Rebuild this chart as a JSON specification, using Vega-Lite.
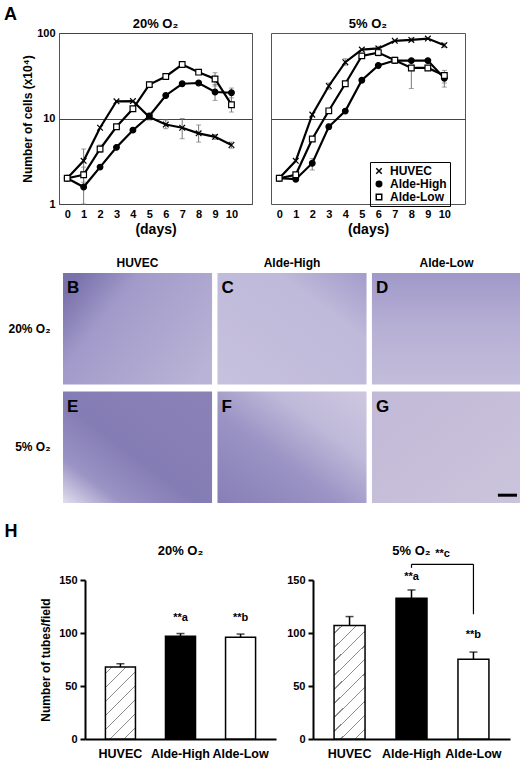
{
  "$schema": "https://vega.github.io/schema/vega-lite/v6.json",
  "description": "Growth curves, tube formation panels and tube counts for HUVEC, Alde-High and Alde-Low cells at 20% and 5% O2",
  "background": "white",
  "autosize": {"type": "pad"},
  "padding": {"left": 3, "top": 5, "right": 0, "bottom": 0},
  "spacing": 19,
  "datasets": {
    "growth": [
      {"o2": "20%", "cell": "HUVEC", "day": 0, "n": 2.0},
      {"o2": "20%", "cell": "HUVEC", "day": 1, "n": 3.2, "lo": 2.4, "hi": 4.4},
      {"o2": "20%", "cell": "HUVEC", "day": 2, "n": 7.8},
      {"o2": "20%", "cell": "HUVEC", "day": 3, "n": 15.9},
      {"o2": "20%", "cell": "HUVEC", "day": 4, "n": 16.0},
      {"o2": "20%", "cell": "HUVEC", "day": 5, "n": 10.4, "lo": 9.6, "hi": 11.5},
      {"o2": "20%", "cell": "HUVEC", "day": 6, "n": 8.5, "lo": 7.6, "hi": 9.6},
      {"o2": "20%", "cell": "HUVEC", "day": 7, "n": 7.8, "lo": 5.8, "hi": 10.0},
      {"o2": "20%", "cell": "HUVEC", "day": 8, "n": 6.7, "lo": 5.3, "hi": 8.4},
      {"o2": "20%", "cell": "HUVEC", "day": 9, "n": 6.1, "lo": 5.7, "hi": 6.5},
      {"o2": "20%", "cell": "HUVEC", "day": 10, "n": 4.9, "lo": 4.5, "hi": 5.3},
      {"o2": "20%", "cell": "Alde-High", "day": 0, "n": 2.0},
      {"o2": "20%", "cell": "Alde-High", "day": 1, "n": 1.58, "lo": 1.0, "hi": 2.4},
      {"o2": "20%", "cell": "Alde-High", "day": 2, "n": 2.7},
      {"o2": "20%", "cell": "Alde-High", "day": 3, "n": 4.6},
      {"o2": "20%", "cell": "Alde-High", "day": 4, "n": 7.3},
      {"o2": "20%", "cell": "Alde-High", "day": 5, "n": 10.7},
      {"o2": "20%", "cell": "Alde-High", "day": 6, "n": 18.6},
      {"o2": "20%", "cell": "Alde-High", "day": 7, "n": 25.5},
      {"o2": "20%", "cell": "Alde-High", "day": 8, "n": 26.0},
      {"o2": "20%", "cell": "Alde-High", "day": 9, "n": 20.4, "lo": 16.3, "hi": 25.0},
      {"o2": "20%", "cell": "Alde-High", "day": 10, "n": 20.0, "lo": 17.4, "hi": 22.7},
      {"o2": "20%", "cell": "Alde-Low", "day": 0, "n": 2.0},
      {"o2": "20%", "cell": "Alde-Low", "day": 1, "n": 2.2, "lo": 1.8, "hi": 2.7},
      {"o2": "20%", "cell": "Alde-Low", "day": 2, "n": 4.4, "lo": 4.0, "hi": 4.9},
      {"o2": "20%", "cell": "Alde-Low", "day": 3, "n": 8.0},
      {"o2": "20%", "cell": "Alde-Low", "day": 4, "n": 13.0},
      {"o2": "20%", "cell": "Alde-Low", "day": 5, "n": 24.9, "lo": 23.0, "hi": 27.0},
      {"o2": "20%", "cell": "Alde-Low", "day": 6, "n": 31.0, "lo": 29.0, "hi": 33.5},
      {"o2": "20%", "cell": "Alde-Low", "day": 7, "n": 42.8},
      {"o2": "20%", "cell": "Alde-Low", "day": 8, "n": 34.8},
      {"o2": "20%", "cell": "Alde-Low", "day": 9, "n": 29.0, "lo": 24.0, "hi": 34.3},
      {"o2": "20%", "cell": "Alde-Low", "day": 10, "n": 14.5, "lo": 11.9, "hi": 19.5},
      {"o2": "5%", "cell": "HUVEC", "day": 0, "n": 2.0},
      {"o2": "5%", "cell": "HUVEC", "day": 1, "n": 3.2},
      {"o2": "5%", "cell": "HUVEC", "day": 2, "n": 11.1},
      {"o2": "5%", "cell": "HUVEC", "day": 3, "n": 24.0, "lo": 22.0, "hi": 26.0},
      {"o2": "5%", "cell": "HUVEC", "day": 4, "n": 45.6, "lo": 42.0, "hi": 50.0},
      {"o2": "5%", "cell": "HUVEC", "day": 5, "n": 64.0},
      {"o2": "5%", "cell": "HUVEC", "day": 6, "n": 66.0, "lo": 62.0, "hi": 70.0},
      {"o2": "5%", "cell": "HUVEC", "day": 7, "n": 81.0},
      {"o2": "5%", "cell": "HUVEC", "day": 8, "n": 83.0, "lo": 80.0, "hi": 87.0},
      {"o2": "5%", "cell": "HUVEC", "day": 9, "n": 86.0},
      {"o2": "5%", "cell": "HUVEC", "day": 10, "n": 72.0, "lo": 68.0, "hi": 76.0},
      {"o2": "5%", "cell": "Alde-High", "day": 0, "n": 2.0},
      {"o2": "5%", "cell": "Alde-High", "day": 1, "n": 1.95},
      {"o2": "5%", "cell": "Alde-High", "day": 2, "n": 3.0, "lo": 2.5, "hi": 3.4},
      {"o2": "5%", "cell": "Alde-High", "day": 3, "n": 8.0, "lo": 7.5, "hi": 8.6},
      {"o2": "5%", "cell": "Alde-High", "day": 4, "n": 12.2},
      {"o2": "5%", "cell": "Alde-High", "day": 5, "n": 28.0},
      {"o2": "5%", "cell": "Alde-High", "day": 6, "n": 41.7},
      {"o2": "5%", "cell": "Alde-High", "day": 7, "n": 47.6, "lo": 44.0, "hi": 52.0},
      {"o2": "5%", "cell": "Alde-High", "day": 8, "n": 47.6},
      {"o2": "5%", "cell": "Alde-High", "day": 9, "n": 47.6},
      {"o2": "5%", "cell": "Alde-High", "day": 10, "n": 29.6, "lo": 26.0, "hi": 33.0},
      {"o2": "5%", "cell": "Alde-Low", "day": 0, "n": 2.0},
      {"o2": "5%", "cell": "Alde-Low", "day": 1, "n": 2.2},
      {"o2": "5%", "cell": "Alde-Low", "day": 2, "n": 5.75},
      {"o2": "5%", "cell": "Alde-Low", "day": 3, "n": 12.3},
      {"o2": "5%", "cell": "Alde-Low", "day": 4, "n": 25.5},
      {"o2": "5%", "cell": "Alde-Low", "day": 5, "n": 54.0},
      {"o2": "5%", "cell": "Alde-Low", "day": 6, "n": 59.0, "lo": 54.0, "hi": 66.0},
      {"o2": "5%", "cell": "Alde-Low", "day": 7, "n": 48.0},
      {"o2": "5%", "cell": "Alde-Low", "day": 8, "n": 39.0, "lo": 22.4, "hi": 42.0},
      {"o2": "5%", "cell": "Alde-Low", "day": 9, "n": 39.0},
      {"o2": "5%", "cell": "Alde-Low", "day": 10, "n": 31.8, "lo": 23.3, "hi": 36.5}
    ],
    "panels": [
      {"letter": "B", "cell": "HUVEC", "o2": "20% O₂"},
      {"letter": "C", "cell": "Alde-High", "o2": "20% O₂"},
      {"letter": "D", "cell": "Alde-Low", "o2": "20% O₂"},
      {"letter": "E", "cell": "HUVEC", "o2": "5% O₂"},
      {"letter": "F", "cell": "Alde-High", "o2": "5% O₂"},
      {"letter": "G", "cell": "Alde-Low", "o2": "5% O₂"}
    ],
    "tubes": [
      {"o2": "20%", "cell": "HUVEC", "n": 68, "hi": 71},
      {"o2": "20%", "cell": "Alde-High", "n": 97, "hi": 99.5},
      {"o2": "20%", "cell": "Alde-Low", "n": 96, "hi": 99},
      {"o2": "5%", "cell": "HUVEC", "n": 107, "hi": 115.5},
      {"o2": "5%", "cell": "Alde-High", "n": 132.7, "hi": 140.6},
      {"o2": "5%", "cell": "Alde-Low", "n": 75.3, "hi": 82}
    ],
    "notes": [
      {"o2": "20%", "cell": "Alde-High", "label": "**a", "y": 114},
      {"o2": "20%", "cell": "Alde-Low", "label": "**b", "y": 114},
      {"o2": "5%", "cell": "Alde-High", "label": "**a", "y": 152.8},
      {"o2": "5%", "cell": "Alde-Low", "label": "**b", "y": 98}
    ],
    "bracket": [
      {"from": "Alde-High", "to": "Alde-Low", "y": 164.8, "y2": 164.8},
      {"from": "Alde-High", "to": "Alde-High", "y": 164.8, "y2": 161.5},
      {"from": "Alde-Low", "to": "Alde-Low", "y": 164.8, "y2": 117.7}
    ]
  },
  "vconcat": [
    {
      "spacing": 17,
      "resolve": {"legend": {"shape": "independent", "fill": "independent"}},
      "hconcat": [
        {
          "width": 193,
          "height": 171,
          "data": {"name": "growth"},
          "transform": [{"filter": "datum.o2 == '20%'"}],
          "encoding": {
            "x": {
              "field": "day", "type": "quantitative",
              "scale": {"domain": [-0.5, 11.25], "nice": false, "zero": false},
              "axis": {"values": [0, 1, 2, 3, 4, 5, 6, 7, 8, 9, 10], "ticks": false, "domain": false, "labelOverlap": false, "labelPadding": 4, "title": "(days)", "titleFontSize": 14, "titlePadding": 3}
            },
            "y": {
              "field": "n", "type": "quantitative",
              "scale": {"type": "log", "domain": [1, 100], "nice": false},
              "axis": {"values": [1, 10, 100], "format": "d", "ticks": false, "domain": false, "grid": true, "gridColor": "#444", "labelPadding": 4, "title": "Number of cells  (x10⁴)", "titlePadding": 2}
            }
          },
          "layer": [
            {
              "transform": [{"filter": "isValid(datum.lo)"}],
              "mark": {"type": "rule", "color": "#777", "strokeWidth": 1},
              "encoding": {"y": {"field": "lo", "type": "quantitative", "title": "Number of cells  (x10⁴)"}, "y2": {"field": "hi"}}
            },
            {
              "transform": [{"filter": "isValid(datum.lo)"}, {"fold": ["lo", "hi"], "as": ["end", "v"]}],
              "mark": {"type": "tick", "color": "#777", "thickness": 1, "size": 5, "orient": "horizontal"},
              "encoding": {"y": {"field": "v", "type": "quantitative", "title": "Number of cells  (x10⁴)"}}
            },
            {"mark": {"type": "line", "color": "black", "strokeWidth": 2.2}, "encoding": {"detail": {"field": "cell"}}},
            {
              "mark": {"type": "point", "size": 32, "stroke": "black", "strokeWidth": 1.2, "opacity": 1},
              "encoding": {
                "shape": {"field": "cell", "type": "nominal", "scale": {"domain": ["HUVEC", "Alde-High", "Alde-Low"], "range": ["M-1,-1L1,1M-1,1L1,-1", "circle", "square"]}, "legend": null},
                "fill": {"field": "cell", "type": "nominal", "scale": {"domain": ["HUVEC", "Alde-High", "Alde-Low"], "range": ["transparent", "black", "white"]}, "legend": null}
              }
            },
            {
              "transform": [{"filter": "datum.day == 0 && datum.cell == 'HUVEC'"}],
              "mark": {"type": "text", "text": "20% O₂", "fontSize": 13, "fontWeight": "bold", "color": "black", "baseline": "alphabetic", "dy": -5},
              "encoding": {"x": {"datum": 5.375, "type": "quantitative", "title": "(days)"}, "y": {"datum": 100, "type": "quantitative", "title": "Number of cells  (x10⁴)"}}
            },
            {
              "transform": [{"filter": "datum.day == 0 && datum.cell == 'HUVEC'"}],
              "mark": {"type": "text", "text": "A", "fontSize": 18, "fontWeight": "bold", "color": "black", "align": "left", "baseline": "alphabetic", "dx": -55, "dy": -13},
              "encoding": {"x": {"datum": -0.5, "type": "quantitative", "title": "(days)"}, "y": {"datum": 100, "type": "quantitative", "title": "Number of cells  (x10⁴)"}}
            }
          ]
        },
        {
          "width": 194,
          "height": 171,
          "data": {"name": "growth"},
          "transform": [{"filter": "datum.o2 == '5%'"}],
          "encoding": {
            "x": {
              "field": "day", "type": "quantitative",
              "scale": {"domain": [-0.5, 11.25], "nice": false, "zero": false},
              "axis": {"values": [0, 1, 2, 3, 4, 5, 6, 7, 8, 9, 10], "ticks": false, "domain": false, "labelOverlap": false, "labelPadding": 4, "title": "(days)", "titleFontSize": 14, "titlePadding": 3}
            },
            "y": {
              "field": "n", "type": "quantitative",
              "scale": {"type": "log", "domain": [1, 100], "nice": false},
              "axis": {"values": [10], "labels": false, "ticks": false, "domain": false, "grid": true, "gridColor": "#444", "title": null}
            }
          },
          "layer": [
            {
              "transform": [{"filter": "isValid(datum.lo)"}],
              "mark": {"type": "rule", "color": "#777", "strokeWidth": 1},
              "encoding": {"y": {"field": "lo", "type": "quantitative", "title": null}, "y2": {"field": "hi"}}
            },
            {
              "transform": [{"filter": "isValid(datum.lo)"}, {"fold": ["lo", "hi"], "as": ["end", "v"]}],
              "mark": {"type": "tick", "color": "#777", "thickness": 1, "size": 5, "orient": "horizontal"},
              "encoding": {"y": {"field": "v", "type": "quantitative", "title": null}}
            },
            {"mark": {"type": "line", "color": "black", "strokeWidth": 2.2}, "encoding": {"detail": {"field": "cell"}}},
            {
              "mark": {"type": "point", "size": 32, "stroke": "black", "strokeWidth": 1.2, "opacity": 1},
              "encoding": {
                "shape": {
                  "field": "cell", "type": "nominal",
                  "scale": {"domain": ["HUVEC", "Alde-High", "Alde-Low"], "range": ["M-1,-1L1,1M-1,1L1,-1", "circle", "square"]},
                  "legend": {"orient": "none", "legendX": 99, "legendY": 129, "title": null, "strokeColor": "black", "padding": 3, "rowPadding": 1, "labelFontSize": 12, "labelFontWeight": "bold", "labelColor": "black", "symbolSize": 30, "labelOffset": 5, "encode": {"symbols": {"update": {"stroke": {"value": "black"}, "strokeWidth": {"value": 1.2}}}}}
                },
                "fill": {
                  "field": "cell", "type": "nominal",
                  "scale": {"domain": ["HUVEC", "Alde-High", "Alde-Low"], "range": ["transparent", "black", "white"]},
                  "legend": {"orient": "none", "legendX": 99, "legendY": 129, "title": null, "strokeColor": "black", "padding": 3, "rowPadding": 1, "labelFontSize": 12, "labelFontWeight": "bold", "labelColor": "black", "symbolSize": 30, "labelOffset": 5, "encode": {"symbols": {"update": {"stroke": {"value": "black"}, "strokeWidth": {"value": 1.2}}}}}
                }
              }
            },
            {
              "transform": [{"filter": "datum.day == 0 && datum.cell == 'HUVEC'"}],
              "mark": {"type": "text", "text": "5% O₂", "fontSize": 13, "fontWeight": "bold", "color": "black", "baseline": "alphabetic", "dy": -5},
              "encoding": {"x": {"datum": 5.375, "type": "quantitative", "title": "(days)"}, "y": {"datum": 100, "type": "quantitative", "title": null}}
            }
          ]
        }
      ]
    },
    {
      "width": 462,
      "height": 230,
      "view": {"stroke": null},
      "data": {"name": "panels"},
      "encoding": {
        "x": {
          "field": "cell", "type": "nominal",
          "scale": {"domain": ["HUVEC", "Alde-High", "Alde-Low"], "range": [4, 462], "paddingInner": 0.035, "paddingOuter": 0},
          "axis": {"orient": "top", "title": null, "domain": false, "ticks": false, "labelAngle": 0, "labelFontSize": 12, "labelPadding": 4}
        },
        "y": {
          "field": "o2", "type": "nominal",
          "scale": {"domain": ["20% O₂", "5% O₂"], "paddingInner": 0.06, "paddingOuter": 0},
          "axis": {"title": null, "domain": false, "ticks": false, "labelFontSize": 12, "labelPadding": 9}
        }
      },
      "layer": [
        {"transform": [{"filter": "datum.letter == 'B'"}], "mark": {"type": "rect", "fill": {"gradient": "linear", "x1": 0, "y1": 0.2, "x2": 1, "y2": 0.8, "stops": [{"offset": 0, "color": "#7a72ab"}, {"offset": 0.3, "color": "#a29bca"}, {"offset": 1, "color": "#b9b3d6"}]}}},
        {"transform": [{"filter": "datum.letter == 'C'"}], "mark": {"type": "rect", "fill": {"gradient": "linear", "x1": 0, "y1": 1, "x2": 1, "y2": 0, "stops": [{"offset": 0, "color": "#c6c1dd"}, {"offset": 0.7, "color": "#bfb9da"}, {"offset": 1, "color": "#a39cca"}]}}},
        {"transform": [{"filter": "datum.letter == 'D'"}], "mark": {"type": "rect", "fill": {"gradient": "linear", "x1": 0, "y1": 0, "x2": 0, "y2": 1, "stops": [{"offset": 0, "color": "#a098c8"}, {"offset": 0.5, "color": "#b7b0d5"}, {"offset": 1, "color": "#c3bddb"}]}}},
        {"transform": [{"filter": "datum.letter == 'E'"}], "mark": {"type": "rect", "fill": {"gradient": "linear", "x1": 0, "y1": 1, "x2": 1, "y2": 0, "stops": [{"offset": 0, "color": "#e2deee"}, {"offset": 0.2, "color": "#9a93c4"}, {"offset": 0.45, "color": "#847cb4"}, {"offset": 1, "color": "#8a82b7"}]}}},
        {"transform": [{"filter": "datum.letter == 'F'"}], "mark": {"type": "rect", "fill": {"gradient": "linear", "x1": 0, "y1": 1, "x2": 1, "y2": 0, "stops": [{"offset": 0, "color": "#877fb6"}, {"offset": 0.4, "color": "#9a93c4"}, {"offset": 0.7, "color": "#c0bada"}, {"offset": 1, "color": "#cdc7e0"}]}}},
        {"transform": [{"filter": "datum.letter == 'G'"}], "mark": {"type": "rect", "fill": {"gradient": "linear", "x1": 0, "y1": 0, "x2": 1, "y2": 1, "stops": [{"offset": 0, "color": "#c1b9d6"}, {"offset": 1, "color": "#cbc4dc"}]}}},
        {
          "mark": {"type": "text", "align": "left", "baseline": "top", "dx": 4, "dy": 7, "fontSize": 17, "fontWeight": "bold", "color": "black"},
          "encoding": {
            "x": {"field": "cell", "type": "nominal", "bandPosition": 0},
            "y": {"field": "o2", "type": "nominal", "bandPosition": 0},
            "text": {"field": "letter"}
          }
        },
        {
          "transform": [{"filter": "datum.letter == 'G'"}],
          "mark": {"type": "rule", "color": "black", "strokeWidth": 3},
          "encoding": {
            "x": {"field": "cell", "type": "nominal", "bandPosition": 0.845},
            "x2": {"field": "cell", "bandPosition": 0.973},
            "y": {"field": "o2", "type": "nominal", "bandPosition": 0.93}
          }
        }
      ]
    },
    {
      "spacing": 10,
      "hconcat": [
        {
          "width": 217,
          "height": 159,
          "view": {"stroke": null},
          "data": {"name": "tubes"},
          "transform": [{"filter": "datum.o2 == '20%'"}],
          "encoding": {
            "x": {
              "field": "cell", "type": "nominal",
              "scale": {"domain": ["HUVEC", "Alde-High", "Alde-Low"], "range": [26, 217], "paddingInner": 0.5, "paddingOuter": 0.34},
              "axis": {"title": null, "labelAngle": 0, "ticks": false, "domainWidth": 2, "domainColor": "black", "labelFontSize": 12.5, "labelPadding": 8}
            },
            "y": {
              "field": "n", "type": "quantitative",
              "scale": {"domain": [0, 150], "nice": false},
              "axis": {"values": [0, 50, 100, 150], "offset": -26, "title": "Number of tubes/field", "tickSize": 5, "tickWidth": 2, "tickColor": "black", "domainWidth": 2, "domainColor": "black", "labelPadding": 3, "titlePadding": 6}
            }
          },
          "layer": [
            {"mark": {"type": "rule", "color": "black", "strokeWidth": 1.5}, "encoding": {"y2": {"field": "hi"}}},
            {
              "transform": [{"filter": "datum.cell != 'HUVEC'"}],
              "mark": {"type": "bar", "stroke": "black", "strokeWidth": 1.5},
              "encoding": {"fill": {"field": "cell", "type": "nominal", "scale": {"domain": ["HUVEC", "Alde-High", "Alde-Low"], "range": ["white", "black", "white"]}, "legend": null}}
            },
            {
              "transform": [{"filter": "datum.cell == 'HUVEC'"}],
              "mark": {
                "type": "bar", "stroke": "black", "strokeWidth": 1.5,
                "fill": {"gradient": "linear", "x1": 0, "y1": 0, "x2": 0.503, "y2": 1.207, "stops": [
                  {"offset": 0, "color": "white"},
                  {"offset": 0.06, "color": "white"}, {"offset": 0.06, "color": "#8c8c8c"}, {"offset": 0.073, "color": "#8c8c8c"}, {"offset": 0.073, "color": "white"},
                  {"offset": 0.197, "color": "white"}, {"offset": 0.197, "color": "#8c8c8c"}, {"offset": 0.21, "color": "#8c8c8c"}, {"offset": 0.21, "color": "white"},
                  {"offset": 0.334, "color": "white"}, {"offset": 0.334, "color": "#8c8c8c"}, {"offset": 0.347, "color": "#8c8c8c"}, {"offset": 0.347, "color": "white"},
                  {"offset": 0.471, "color": "white"}, {"offset": 0.471, "color": "#8c8c8c"}, {"offset": 0.484, "color": "#8c8c8c"}, {"offset": 0.484, "color": "white"},
                  {"offset": 0.608, "color": "white"}, {"offset": 0.608, "color": "#8c8c8c"}, {"offset": 0.621, "color": "#8c8c8c"}, {"offset": 0.621, "color": "white"},
                  {"offset": 0.745, "color": "white"}, {"offset": 0.745, "color": "#8c8c8c"}, {"offset": 0.758, "color": "#8c8c8c"}, {"offset": 0.758, "color": "white"},
                  {"offset": 0.882, "color": "white"}, {"offset": 0.882, "color": "#8c8c8c"}, {"offset": 0.895, "color": "#8c8c8c"}, {"offset": 0.895, "color": "white"},
                  {"offset": 1, "color": "white"}
                ]}
              }
            },
            {"mark": {"type": "tick", "color": "black", "thickness": 1.5, "size": 8, "orient": "horizontal"}, "encoding": {"y": {"field": "hi", "type": "quantitative", "title": "Number of tubes/field"}}},
            {
              "data": {"name": "notes"},
              "transform": [{"filter": "datum.o2 == '20%'"}],
              "mark": {"type": "text", "fontSize": 11, "fontWeight": "bold", "color": "black"},
              "encoding": {"y": {"field": "y", "type": "quantitative", "title": "Number of tubes/field"}, "text": {"field": "label"}}
            },
            {
              "transform": [{"filter": "datum.cell == 'HUVEC'"}],
              "mark": {"type": "text", "text": "20% O₂", "fontSize": 13, "fontWeight": "bold", "color": "black"},
              "encoding": {"x": {"datum": "Alde-High"}, "y": {"datum": 177, "type": "quantitative", "title": "Number of tubes/field"}}
            },
            {
              "transform": [{"filter": "datum.cell == 'HUVEC'"}],
              "mark": {"type": "text", "text": "H", "fontSize": 18, "fontWeight": "bold", "color": "black", "align": "left", "baseline": "alphabetic", "dx": -116},
              "encoding": {"x": {"datum": "HUVEC"}, "y": {"datum": 191, "type": "quantitative", "title": "Number of tubes/field"}}
            }
          ]
        },
        {
          "width": 197,
          "height": 159,
          "view": {"stroke": null},
          "data": {"name": "tubes"},
          "transform": [{"filter": "datum.o2 == '5%'"}],
          "encoding": {
            "x": {
              "field": "cell", "type": "nominal",
              "scale": {"domain": ["HUVEC", "Alde-High", "Alde-Low"], "paddingInner": 0.5, "paddingOuter": 0.34},
              "axis": {"title": null, "labelAngle": 0, "ticks": false, "domainWidth": 2, "domainColor": "black", "labelFontSize": 12.5, "labelPadding": 8}
            },
            "y": {
              "field": "n", "type": "quantitative",
              "scale": {"domain": [0, 150], "nice": false},
              "axis": {"values": [0, 50, 100, 150], "title": null, "tickSize": 5, "tickWidth": 2, "tickColor": "black", "domainWidth": 2, "domainColor": "black", "labelPadding": 3}
            }
          },
          "layer": [
            {"mark": {"type": "rule", "color": "black", "strokeWidth": 1.5}, "encoding": {"y2": {"field": "hi"}}},
            {
              "transform": [{"filter": "datum.cell != 'HUVEC'"}],
              "mark": {"type": "bar", "stroke": "black", "strokeWidth": 1.5},
              "encoding": {"fill": {"field": "cell", "type": "nominal", "scale": {"domain": ["HUVEC", "Alde-High", "Alde-Low"], "range": ["white", "black", "white"]}, "legend": null}}
            },
            {
              "transform": [{"filter": "datum.cell == 'HUVEC'"}],
              "mark": {
                "type": "bar", "stroke": "black", "strokeWidth": 1.5,
                "fill": {"gradient": "linear", "x1": 0, "y1": 0, "x2": 0.313, "y2": 1.182, "stops": [
                  {"offset": 0, "color": "white"},
                  {"offset": 0.05, "color": "white"}, {"offset": 0.05, "color": "#8c8c8c"}, {"offset": 0.059, "color": "#8c8c8c"}, {"offset": 0.059, "color": "white"},
                  {"offset": 0.148, "color": "white"}, {"offset": 0.148, "color": "#8c8c8c"}, {"offset": 0.157, "color": "#8c8c8c"}, {"offset": 0.157, "color": "white"},
                  {"offset": 0.245, "color": "white"}, {"offset": 0.245, "color": "#8c8c8c"}, {"offset": 0.254, "color": "#8c8c8c"}, {"offset": 0.254, "color": "white"},
                  {"offset": 0.343, "color": "white"}, {"offset": 0.343, "color": "#8c8c8c"}, {"offset": 0.352, "color": "#8c8c8c"}, {"offset": 0.352, "color": "white"},
                  {"offset": 0.44, "color": "white"}, {"offset": 0.44, "color": "#8c8c8c"}, {"offset": 0.449, "color": "#8c8c8c"}, {"offset": 0.449, "color": "white"},
                  {"offset": 0.538, "color": "white"}, {"offset": 0.538, "color": "#8c8c8c"}, {"offset": 0.547, "color": "#8c8c8c"}, {"offset": 0.547, "color": "white"},
                  {"offset": 0.635, "color": "white"}, {"offset": 0.635, "color": "#8c8c8c"}, {"offset": 0.644, "color": "#8c8c8c"}, {"offset": 0.644, "color": "white"},
                  {"offset": 0.733, "color": "white"}, {"offset": 0.733, "color": "#8c8c8c"}, {"offset": 0.742, "color": "#8c8c8c"}, {"offset": 0.742, "color": "white"},
                  {"offset": 0.83, "color": "white"}, {"offset": 0.83, "color": "#8c8c8c"}, {"offset": 0.839, "color": "#8c8c8c"}, {"offset": 0.839, "color": "white"},
                  {"offset": 0.928, "color": "white"}, {"offset": 0.928, "color": "#8c8c8c"}, {"offset": 0.937, "color": "#8c8c8c"}, {"offset": 0.937, "color": "white"},
                  {"offset": 1, "color": "white"}
                ]}
              }
            },
            {"mark": {"type": "tick", "color": "black", "thickness": 1.5, "size": 8, "orient": "horizontal"}, "encoding": {"y": {"field": "hi", "type": "quantitative", "title": null}}},
            {
              "data": {"name": "notes"},
              "transform": [{"filter": "datum.o2 == '5%'"}],
              "mark": {"type": "text", "fontSize": 11, "fontWeight": "bold", "color": "black"},
              "encoding": {"y": {"field": "y", "type": "quantitative", "title": null}, "text": {"field": "label"}}
            },
            {
              "data": {"name": "bracket"},
              "mark": {"type": "rule", "color": "black", "strokeWidth": 1.2},
              "encoding": {
                "x": {"field": "from", "type": "nominal", "title": null},
                "x2": {"field": "to"},
                "y": {"field": "y", "type": "quantitative", "title": null},
                "y2": {"field": "y2"}
              }
            },
            {
              "transform": [{"filter": "datum.cell == 'HUVEC'"}],
              "mark": {"type": "text", "text": "**c", "fontSize": 11, "fontWeight": "bold", "color": "black", "dx": 31},
              "encoding": {"x": {"datum": "Alde-High"}, "y": {"datum": 174.5, "type": "quantitative", "title": null}}
            },
            {
              "transform": [{"filter": "datum.cell == 'HUVEC'"}],
              "mark": {"type": "text", "text": "5% O₂", "fontSize": 13, "fontWeight": "bold", "color": "black"},
              "encoding": {"x": {"datum": "Alde-High"}, "y": {"datum": 177, "type": "quantitative", "title": null}}
            }
          ]
        }
      ]
    }
  ],
  "config": {
    "font": "Liberation Sans",
    "view": {"stroke": "#555", "strokeWidth": 1},
    "axis": {"labelFont": "Liberation Sans", "titleFont": "Liberation Sans", "labelFontWeight": "bold", "labelColor": "black", "titleFontWeight": "bold", "titleColor": "black", "grid": false, "labelFontSize": 11, "titleFontSize": 12},
    "title": {"font": "Liberation Sans", "fontWeight": "bold", "color": "black", "fontSize": 13},
    "text": {"font": "Liberation Sans"}
  }
}
